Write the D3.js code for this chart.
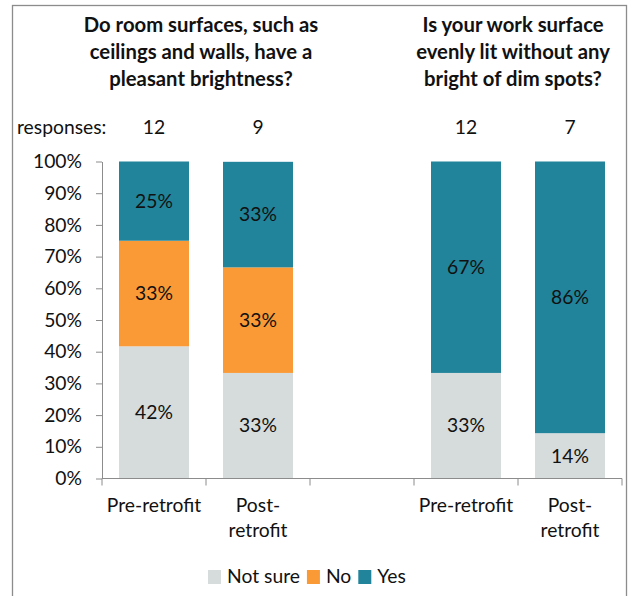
<!DOCTYPE html>
<html>
<head>
<meta charset="utf-8">
<script src="https://cdn.jsdelivr.net/npm/d3@7"></script>
<style>
  html, body { margin: 0; padding: 0; background: #fff; }
  svg { display: block; }
  text { font-family: Lato, "Open Sans", sans-serif; fill: #111; }
</style>
</head>
<body>
<svg id="chart" width="628" height="596"></svg>
<script>
// ---- data ----
const slots = ["q1pre", "q1post", "gap", "q2pre", "q2post"];
const categoryLabels = [["Pre-retrofit"], ["Post-", "retrofit"], [], ["Pre-retrofit"], ["Post-", "retrofit"]];
const responses = [12, 9, null, 12, 7];
const seriesNames = ["Not sure", "No", "Yes"];
const seriesColors = ["#D6DBDB", "#FA9A37", "#21849B"];
const notSure = [41.7, 33.3, null, 33.3, 14.3];
const no      = [33.3, 33.3, null, 0, 0];
const yes     = [25.0, 33.3, null, 66.7, 85.7];
const yTicks = [0, 10, 20, 30, 40, 50, 60, 70, 80, 90, 100];
const titles = [
  ["Do room surfaces, such as", "ceilings and walls, have a", "pleasant brightness?"],
  ["Is your work surface", "evenly lit without any", "bright of dim spots?"]
];
const titleGroups = [["q1pre", "q1post"], ["q2pre", "q2post"]];

(function () {
// ---- layout ----
const svg = d3.select("#chart");
const plotLeft = 102, plotRight = 622, plotTop = 161.5, plotBottom = 478.5;
const fs = 19.3;

// frame
svg.append("rect")
  .attr("x", 12.5).attr("y", 5.5).attr("width", 614).attr("height", 620)
  .attr("fill", "none").attr("stroke", "#8c8c8c").attr("stroke-width", 1.3);

const y = d3.scaleLinear().domain([0, 100]).range([plotBottom, plotTop]);
const xSlot = d3.scaleBand().domain(slots).range([plotLeft, plotRight]).padding(0);
const xBar = d3.scaleBand().domain(slots).range([plotLeft, plotRight]).paddingInner(0.327).paddingOuter(0.1635);

// stacked data
const rows = slots.map((s, i) => ({ slot: s, "Not sure": notSure[i] || 0, "No": no[i] || 0, "Yes": yes[i] || 0, empty: notSure[i] === null }));
const stack = d3.stack().keys(seriesNames)(rows);
const color = d3.scaleOrdinal().domain(seriesNames).range(seriesColors);

const barG = svg.append("g");
stack.forEach(layer => {
  const key = layer.key;
  layer.forEach(d => {
    if (d.data.empty) return;
    const v = d[1] - d[0];
    if (v <= 0) return;
    barG.append("rect")
      .attr("x", xBar(d.data.slot))
      .attr("y", y(d[1]))
      .attr("width", xBar.bandwidth())
      .attr("height", y(d[0]) - y(d[1]))
      .attr("fill", color(key));
    barG.append("text")
      .attr("x", xBar(d.data.slot) + xBar.bandwidth() / 2)
      .attr("y", (y(d[0]) + y(d[1])) / 2)
      .attr("dy", "0.35em")
      .attr("text-anchor", "middle")
      .attr("font-size", fs)
      .text(Math.round(v) + "%");
  });
});

// y axis
const yAxis = d3.axisLeft(y).tickValues(yTicks).tickSize(6).tickSizeOuter(0).tickPadding(14)
  .tickFormat(d => d + "%");
const yG = svg.append("g").attr("transform", `translate(${plotLeft},0)`).call(yAxis);
yG.select(".domain").attr("stroke", "#8c8c8c");
yG.selectAll(".tick line").attr("stroke", "#8c8c8c");
yG.selectAll(".tick text").attr("font-size", fs).attr("font-family", "Lato, sans-serif").attr("fill", "#111");

// x axis line + boundary ticks
const bounds = slots.map(s => xSlot(s)).concat([xSlot(slots[slots.length - 1]) + xSlot.step()]);
const xG = svg.append("g");
xG.append("line").attr("x1", plotLeft).attr("x2", plotRight).attr("y1", plotBottom).attr("y2", plotBottom)
  .attr("stroke", "#8c8c8c");
xG.selectAll("line.tk").data(bounds).join("line").attr("class", "tk")
  .attr("x1", d => d).attr("x2", d => d).attr("y1", plotBottom).attr("y2", plotBottom + 7)
  .attr("stroke", "#8c8c8c");

// category labels
slots.forEach((s, i) => {
  categoryLabels[i].forEach((line, j) => {
    svg.append("text")
      .attr("x", xSlot(s) + xSlot.bandwidth() / 2)
      .attr("y", 512 + j * 25)
      .attr("text-anchor", "middle")
      .attr("font-size", fs)
      .text(line);
  });
});

// responses row
svg.append("text").attr("x", 17).attr("y", 134).attr("font-size", fs).text("responses:");
slots.forEach((s, i) => {
  if (responses[i] === null) return;
  svg.append("text")
    .attr("x", xBar(s) + xBar.bandwidth() / 2)
    .attr("y", 134)
    .attr("text-anchor", "middle")
    .attr("font-size", fs)
    .text(responses[i]);
});

// titles
titles.forEach((lines, k) => {
  const g = titleGroups[k];
  const cx = (xSlot(g[0]) + xSlot(g[1]) + xSlot.step()) / 2 - 5;
  lines.forEach((line, j) => {
    svg.append("text")
      .attr("x", cx)
      .attr("y", 32 + j * 27)
      .attr("text-anchor", "middle")
      .attr("font-size", 20.3)
      .attr("font-weight", "bold")
      .text(line);
  });
});

// legend
const legendItems = seriesNames.map((n, i) => ({ name: n, color: seriesColors[i] }));
const lg = svg.append("g").attr("transform", "translate(208,570)");
let lx = 0;
legendItems.forEach(it => {
  lg.append("rect").attr("x", lx).attr("y", 0).attr("width", 13).attr("height", 14).attr("fill", it.color);
  const t = lg.append("text").attr("x", lx + 19).attr("y", 13).attr("font-size", fs).text(it.name);
  lx += 19 + t.node().getComputedTextLength() + 7;
});
})();
</script>
</body>
</html>
